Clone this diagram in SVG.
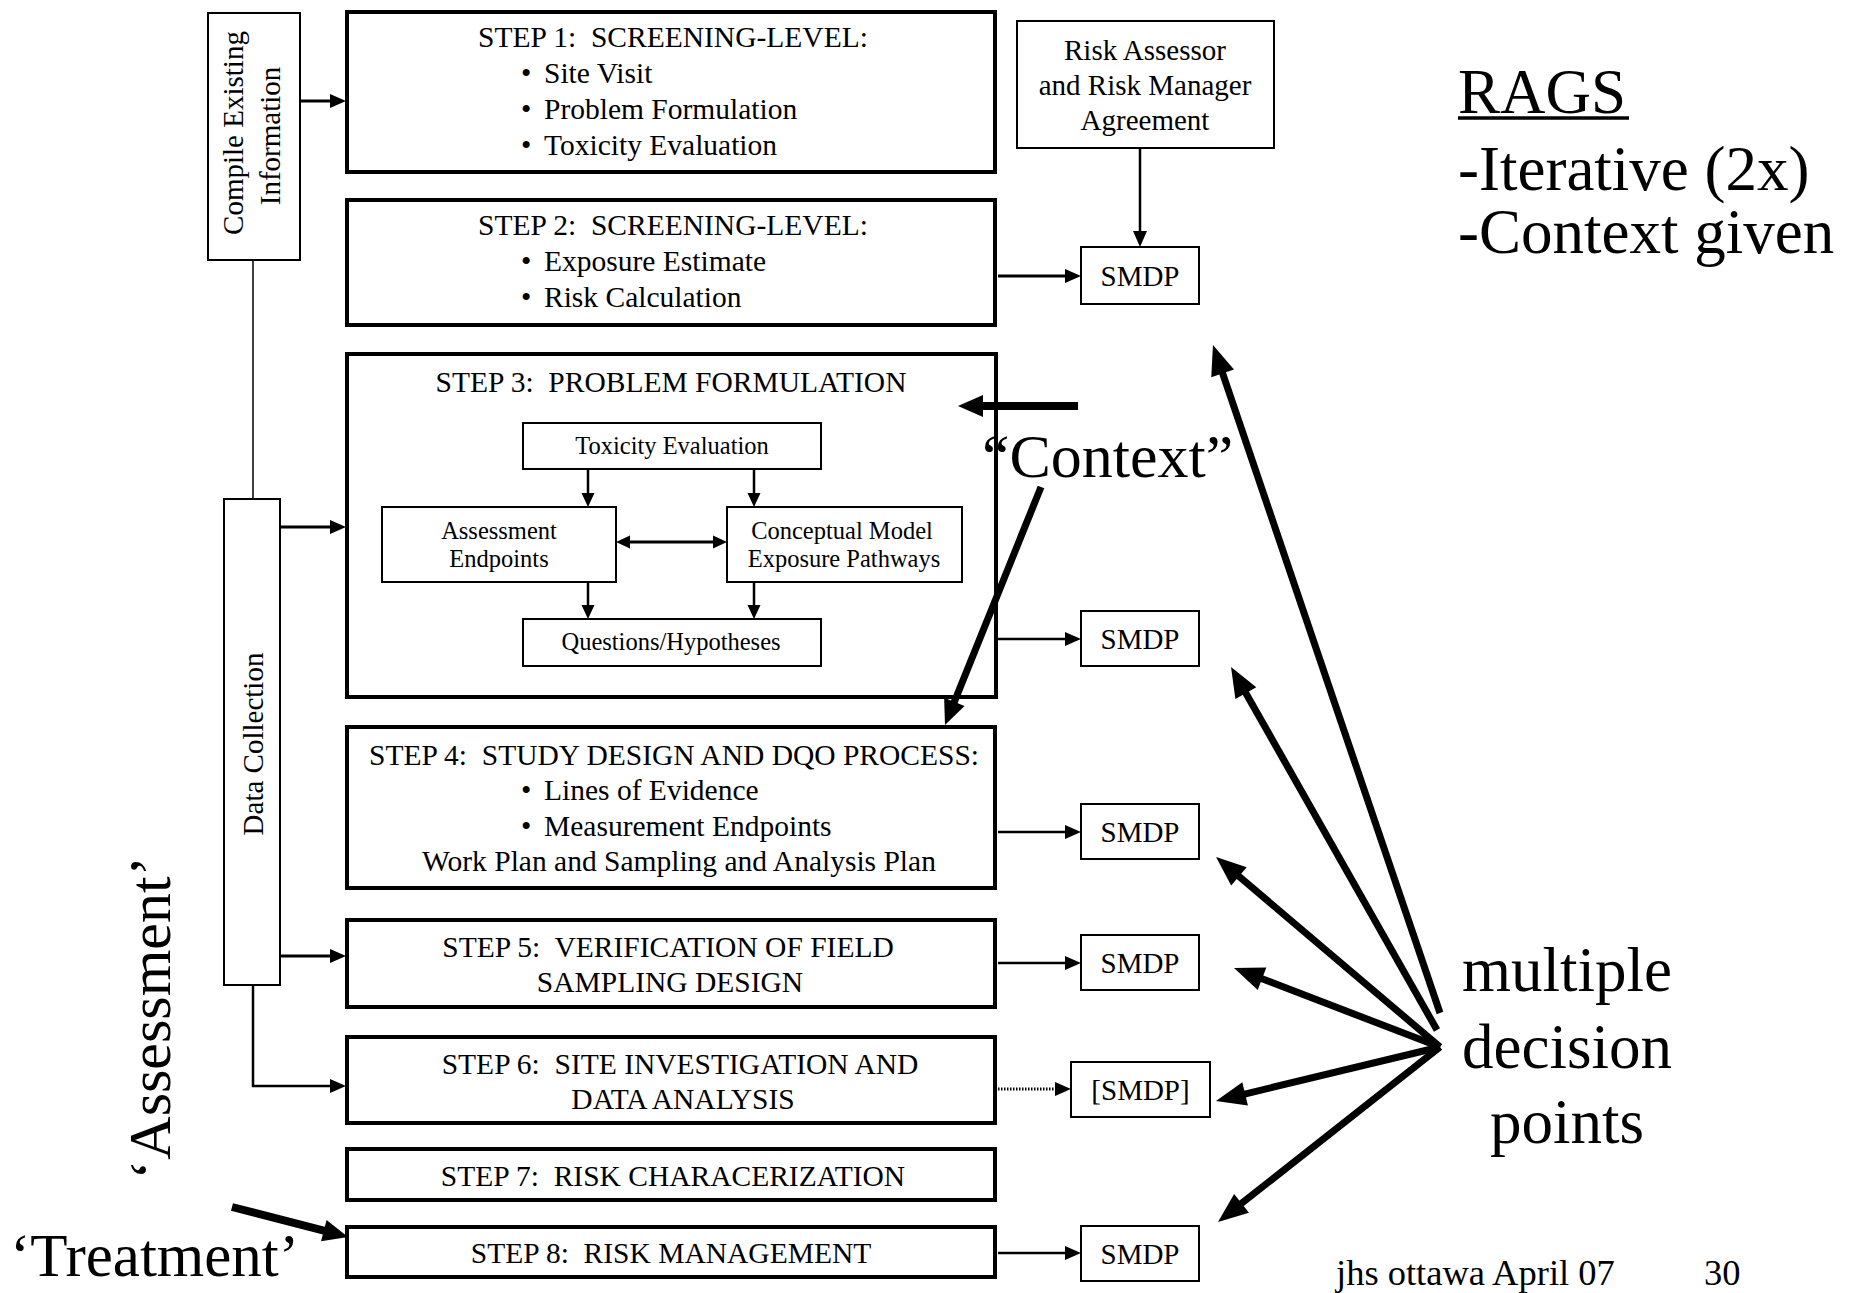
<svg xmlns="http://www.w3.org/2000/svg" width="1860" height="1293" viewBox="0 0 1860 1293">
  <defs>
    <style>
      text { font-family: "Liberation Serif", "Times New Roman", serif; fill: #000; }
      .s { font-size: 29.5px; }
      .m { font-size: 29px; }
      .i { font-size: 24.5px; }
      .big { font-size: 63px; }
      .c { text-anchor: middle; }
      .step { fill: #fff; stroke: #000; stroke-width: 4; }
      .box { fill: #fff; stroke: #000; stroke-width: 2; }
      .ln { fill: none; stroke: #000; stroke-width: 3; }
      .lni { fill: none; stroke: #000; stroke-width: 2.5; }
      .thin { fill: none; stroke: #000; stroke-width: 1.5; }
      .dot { fill: none; stroke: #000; stroke-width: 3; stroke-dasharray: 1.5 1.5; }
      .thick { fill: none; stroke: #000; stroke-width: 7; }
      .ctx { fill: none; stroke: #000; stroke-width: 8; }
    </style>
    <marker id="ah" markerUnits="userSpaceOnUse" markerWidth="16" markerHeight="14" refX="6" refY="7" orient="auto" overflow="visible">
      <path d="M0,0 L16,7 L0,14 Z" fill="#000"/>
    </marker>
    <marker id="ahs" markerUnits="userSpaceOnUse" markerWidth="14" markerHeight="13" refX="5" refY="6.5" orient="auto-start-reverse" overflow="visible">
      <path d="M0,0 L14,6.5 L0,13 Z" fill="#000"/>
    </marker>
    <marker id="ahb" markerUnits="userSpaceOnUse" markerWidth="30" markerHeight="24" refX="10" refY="12" orient="auto" overflow="visible">
      <path d="M0,0 L30,12 L0,24 Z" fill="#000"/>
    </marker>
    <marker id="ahc" markerUnits="userSpaceOnUse" markerWidth="25" markerHeight="22" refX="10" refY="11" orient="auto" overflow="visible">
      <path d="M0,0 L25,11 L0,22 Z" fill="#000"/>
    </marker>
  </defs>

  <rect width="1860" height="1293" fill="#fff"/>

  <!-- side column -->
  <g id="compile">
    <rect class="box" x="208" y="13" width="92" height="247"/>
    <text class="m c" transform="translate(243,133) rotate(-90)">Compile Existing</text>
    <text class="m c" transform="translate(280,136) rotate(-90)">Information</text>
  </g>
  <g id="data-collection">
    <rect class="box" x="224" y="499" width="56" height="486"/>
    <text class="m c" transform="translate(263,744) rotate(-90)">Data Collection</text>
  </g>

  <!-- process steps -->
  <g id="step1">
    <rect class="step" x="347" y="12" width="648" height="160"/>
    <text class="s c" x="673" y="47">STEP 1:&#160; SCREENING-LEVEL:</text>
    <text class="s" x="521" y="83">•<tspan x="544">Site Visit</tspan></text>
    <text class="s" x="521" y="119">•<tspan x="544">Problem Formulation</tspan></text>
    <text class="s" x="521" y="155">•<tspan x="544">Toxicity Evaluation</tspan></text>
  </g>
  <g id="step2">
    <rect class="step" x="347" y="200" width="648" height="125"/>
    <text class="s c" x="673" y="235">STEP 2:&#160; SCREENING-LEVEL:</text>
    <text class="s" x="521" y="271">•<tspan x="544">Exposure Estimate</tspan></text>
    <text class="s" x="521" y="307">•<tspan x="544">Risk Calculation</tspan></text>
  </g>
  <g id="step3">
    <rect class="step" x="347" y="354" width="649" height="343"/>
    <text class="s c" x="671" y="392">STEP 3:&#160; PROBLEM FORMULATION</text>
  </g>
  <g id="toxicity">
    <rect class="box" x="523" y="423" width="298" height="46"/>
    <text class="i c" x="672" y="454">Toxicity Evaluation</text>
  </g>
  <g id="assessment-endpoints">
    <rect class="box" x="382" y="507" width="234" height="75"/>
    <text class="i c" x="499" y="539">Assessment</text>
    <text class="i c" x="499" y="567">Endpoints</text>
  </g>
  <g id="conceptual-model">
    <rect class="box" x="727" y="507" width="235" height="75"/>
    <text class="i c" x="842" y="539">Conceptual Model</text>
    <text class="i c" x="844" y="567">Exposure Pathways</text>
  </g>
  <g id="questions">
    <rect class="box" x="523" y="619" width="298" height="47"/>
    <text class="i c" x="671" y="650">Questions/Hypotheses</text>
  </g>
  <g id="step4">
    <rect class="step" x="347" y="727" width="648" height="161"/>
    <text class="s c" x="674" y="765">STEP 4:&#160; STUDY DESIGN AND DQO PROCESS:</text>
    <text class="s" x="521" y="800">•<tspan x="544">Lines of Evidence</tspan></text>
    <text class="s" x="521" y="836">•<tspan x="544">Measurement Endpoints</tspan></text>
    <text class="s c" x="679" y="871">Work Plan and Sampling and Analysis Plan</text>
  </g>
  <g id="step5">
    <rect class="step" x="347" y="920" width="648" height="87"/>
    <text class="s c" x="668" y="957">STEP 5:&#160; VERIFICATION OF FIELD</text>
    <text class="s c" x="670" y="992">SAMPLING DESIGN</text>
  </g>
  <g id="step6">
    <rect class="step" x="347" y="1037" width="648" height="86"/>
    <text class="s c" x="680" y="1074">STEP 6:&#160; SITE INVESTIGATION AND</text>
    <text class="s c" x="683" y="1109">DATA ANALYSIS</text>
  </g>
  <g id="step7">
    <rect class="step" x="347" y="1149" width="648" height="51"/>
    <text class="s c" x="673" y="1186">STEP 7:&#160; RISK CHARACERIZATION</text>
  </g>
  <g id="step8">
    <rect class="step" x="347" y="1227" width="648" height="50"/>
    <text class="s c" x="671" y="1263">STEP 8:&#160; RISK MANAGEMENT</text>
  </g>

  <!-- agreement and decision points -->
  <g id="agreement">
    <rect class="box" x="1017" y="21" width="257" height="127"/>
    <text class="m c" x="1145" y="60">Risk Assessor</text>
    <text class="m c" x="1145" y="95">and Risk Manager</text>
    <text class="m c" x="1145" y="130">Agreement</text>
  </g>
  <g id="smdp-2">
    <rect class="box" x="1081" y="247" width="118" height="57"/>
    <text class="m c" x="1140" y="285.5">SMDP</text>
  </g>
  <g id="smdp-3">
    <rect class="box" x="1081" y="611" width="118" height="55"/>
    <text class="m c" x="1140" y="648.5">SMDP</text>
  </g>
  <g id="smdp-4">
    <rect class="box" x="1081" y="804" width="118" height="55"/>
    <text class="m c" x="1140" y="841.5">SMDP</text>
  </g>
  <g id="smdp-5">
    <rect class="box" x="1081" y="935" width="118" height="55"/>
    <text class="m c" x="1140" y="972.5">SMDP</text>
  </g>
  <g id="smdp-6">
    <rect class="box" x="1071" y="1062" width="139" height="55"/>
    <text class="m c" x="1140.5" y="1099.5">[SMDP]</text>
  </g>
  <g id="smdp-8">
    <rect class="box" x="1081" y="1226" width="118" height="55"/>
    <text class="m c" x="1140" y="1263.5">SMDP</text>
  </g>

  <!-- connectors -->
  <g id="connectors">
    <line class="thin" x1="253" y1="260" x2="253" y2="499"/>
    <line class="ln" x1="300" y1="101" x2="336" y2="101" marker-end="url(#ah)"/>
    <line class="ln" x1="280" y1="527" x2="336" y2="527" marker-end="url(#ah)"/>
    <line class="ln" x1="280" y1="956" x2="336" y2="956" marker-end="url(#ah)"/>
    <path class="lni" d="M253,985 V1086 H336" marker-end="url(#ah)"/>

    <line class="lni" x1="588" y1="469" x2="588" y2="498" marker-end="url(#ahs)"/>
    <line class="lni" x1="754" y1="469" x2="754" y2="498" marker-end="url(#ahs)"/>
    <line class="lni" x1="588" y1="582" x2="588" y2="610" marker-end="url(#ahs)"/>
    <line class="lni" x1="754" y1="582" x2="754" y2="610" marker-end="url(#ahs)"/>
    <line class="ln" x1="625" y1="542" x2="718" y2="542" marker-start="url(#ahs)" marker-end="url(#ahs)"/>

    <line class="lni" x1="1140" y1="148" x2="1140" y2="237" marker-end="url(#ah)"/>
    <line class="ln" x1="998" y1="276" x2="1071" y2="276" marker-end="url(#ah)"/>
    <line class="lni" x1="998" y1="639" x2="1071" y2="639" marker-end="url(#ah)"/>
    <line class="lni" x1="998" y1="832" x2="1071" y2="832" marker-end="url(#ah)"/>
    <line class="lni" x1="998" y1="963" x2="1071" y2="963" marker-end="url(#ah)"/>
    <line class="dot" x1="998" y1="1089" x2="1061" y2="1089" marker-end="url(#ah)"/>
    <line class="lni" x1="998" y1="1253" x2="1071" y2="1253" marker-end="url(#ah)"/>

    <!-- context pointers -->
    <line class="ctx" x1="1078" y1="406" x2="973" y2="406" marker-end="url(#ahc)"/>
    <line class="thick" x1="1041" y1="487" x2="950.6" y2="711.1" marker-end="url(#ahc)"/>
    <line class="ctx" x1="232" y1="1207" x2="333.5" y2="1233.2" marker-end="url(#ahc)"/>

    <!-- decision point pointers -->
    <line class="thick" x1="1440" y1="1013" x2="1219.4" y2="363.9" marker-end="url(#ahb)"/>
    <line class="thick" x1="1437" y1="1030" x2="1240.9" y2="684.4" marker-end="url(#ahb)"/>
    <line class="thick" x1="1440" y1="1047" x2="1231.3" y2="869.9" marker-end="url(#ahb)"/>
    <line class="thick" x1="1440" y1="1047" x2="1252.7" y2="975.2" marker-end="url(#ahb)"/>
    <line class="thick" x1="1440" y1="1047" x2="1235.4" y2="1096.3" marker-end="url(#ahb)"/>
    <line class="thick" x1="1440" y1="1047" x2="1233.7" y2="1209.6" marker-end="url(#ahb)"/>
  </g>

  <!-- annotations -->
  <g id="annotations">
    <text x="982" y="477" style="font-size:62px">“Context”</text>
    <text class="big" x="1458" y="113">RAGS</text>
    <line x1="1458" y1="118" x2="1629" y2="118" stroke="#000" stroke-width="3.5"/>
    <text class="big" x="1458" y="190">-Iterative (2x)</text>
    <text class="big" x="1458" y="253">-Context given</text>
    <text class="big c" x="1567" y="991">multiple</text>
    <text class="big c" x="1567" y="1068">decision</text>
    <text class="big c" x="1567" y="1143">points</text>
    <text transform="translate(170,1018) rotate(-90)" style="font-size:60px" text-anchor="middle">‘Assessment’</text>
    <text x="10" y="1276" style="font-size:61px">‘Treatment’</text>
    <text x="1336" y="1285" style="font-size:36.5px">jhs ottawa April 07</text>
    <text x="1704" y="1285" style="font-size:36.5px">30</text>
  </g>
</svg>
